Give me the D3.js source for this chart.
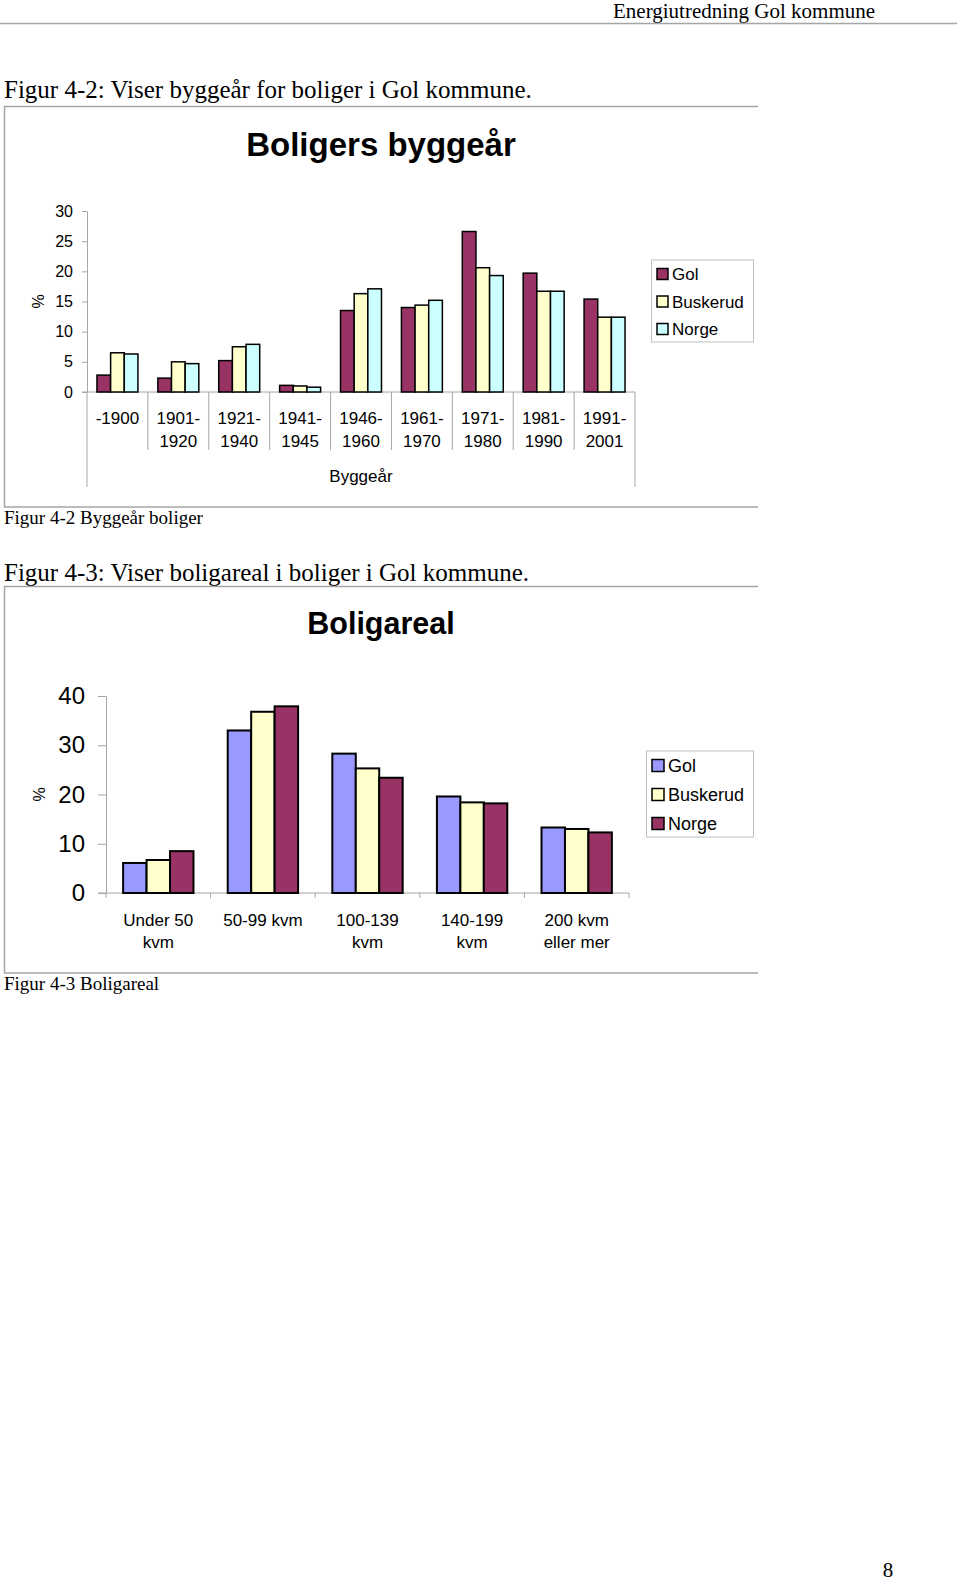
<!DOCTYPE html>
<html><head><meta charset="utf-8">
<script src="https://cdn.jsdelivr.net/npm/d3@7"></script>
<style>body{margin:0;background:#fff} svg{display:block}</style>
</head><body>
<script>
// ---------- data ----------
const seriesNames = ["Gol", "Buskerud", "Norge"];

const yearCategories = [["-1900"], ["1901-", "1920"], ["1921-", "1940"], ["1941-", "1945"], ["1946-", "1960"],
  ["1961-", "1970"], ["1971-", "1980"], ["1981-", "1990"], ["1991-", "2001"]];
const golYears      = [2.8, 2.3, 5.2, 1.1, 13.5, 14.0, 26.6, 19.7, 15.4];
const buskerudYears = [6.5, 5.0, 7.5, 1.0, 16.3, 14.4, 20.6, 16.7, 12.4];
const norgeYears    = [6.3, 4.7, 7.9, 0.8, 17.1, 15.2, 19.3, 16.7, 12.4];
const yearTicks = [0, 5, 10, 15, 20, 25, 30];

const areaCategories = [["Under 50", "kvm"], ["50-99 kvm"], ["100-139", "kvm"], ["140-199", "kvm"], ["200 kvm", "eller mer"]];
const golArea      = [6.1, 33.0, 28.3, 19.6, 13.3];
const buskerudArea = [6.7, 36.8, 25.3, 18.4, 13.0];
const norgeArea    = [8.5, 37.9, 23.4, 18.2, 12.3];
const areaTicks = [0, 10, 20, 30, 40];

// ---------- styles ----------
const yearColors = ["#993366", "#FFFFCC", "#CCFFFF"];
const areaColors = ["#9999FF", "#FFFFCC", "#993366"];
const SERIF = "'Liberation Serif','Times New Roman',serif";
const SANS = "'Liberation Sans',Arial,sans-serif";
const GRAY = "#a6a6a6";

const svg = d3.select("body").append("svg").attr("width", 960).attr("height", 1583);

// page text
svg.append("text").attr("x", 613).attr("y", 18).attr("font-family", SERIF).attr("font-size", 21).text("Energiutredning Gol kommune");
svg.append("line").attr("x1", 0).attr("x2", 957).attr("y1", 23.5).attr("y2", 23.5).attr("stroke", GRAY).attr("stroke-width", 1.5);
svg.append("text").attr("x", 4).attr("y", 98).attr("font-family", SERIF).attr("font-size", 25).text("Figur 4-2: Viser byggeår for boliger i Gol kommune.");
svg.append("text").attr("x", 4).attr("y", 524).attr("font-family", SERIF).attr("font-size", 19).text("Figur 4-2 Byggeår boliger");
svg.append("text").attr("x", 4).attr("y", 581).attr("font-family", SERIF).attr("font-size", 25).text("Figur 4-3: Viser boligareal i boliger i Gol kommune.");
svg.append("text").attr("x", 4).attr("y", 990).attr("font-family", SERIF).attr("font-size", 19).text("Figur 4-3 Boligareal");
svg.append("text").attr("x", 888).attr("y", 1577).attr("text-anchor", "middle").attr("font-family", SERIF).attr("font-size", 21).text("8");

function frame(top, bottom) {
  const g = svg.append("g").attr("stroke", GRAY).attr("stroke-width", 1.5).attr("fill", "none");
  g.append("path").attr("d", `M758,${top}H4.5V${bottom}H758`);
}
frame(106.5, 507);
frame(586.5, 973);

function drawChart(cfg) {
  const g = svg.append("g");
  const x = d3.scaleBand().domain(d3.range(cfg.categories.length)).range([cfg.x0, cfg.x1]);
  const xs = d3.scaleBand().domain(seriesNames).range([0, x.bandwidth()]).paddingInner(0).paddingOuter(0.73);
  const y = d3.scaleLinear().domain([0, d3.max(cfg.ticks)]).range([cfg.y0, cfg.yTop]);
  const values = [cfg.gol, cfg.busk, cfg.norge];

  // title
  g.append("text").attr("x", 381).attr("y", cfg.titleY).attr("text-anchor", "middle")
    .attr("font-family", SANS).attr("font-weight", "bold").attr("font-size", cfg.titleSize).text(cfg.title);

  // y axis
  const ya = g.append("g").attr("transform", `translate(${cfg.x0},0)`)
    .call(d3.axisLeft(y).tickValues(cfg.ticks).tickSize(cfg.tickSize).tickSizeOuter(0).tickPadding(cfg.tickPad));
  ya.select(".domain").attr("stroke", GRAY).attr("stroke-width", 1);
  ya.selectAll(".tick line").attr("stroke", GRAY);
  ya.selectAll(".tick text").attr("font-family", SANS).attr("font-size", cfg.tickFont).attr("fill", "#000");

  g.append("text").attr("transform", `translate(${cfg.pctX},${(cfg.y0 + cfg.yTop) / 2}) rotate(-90)`)
    .attr("text-anchor", "middle").attr("dy", "0.35em").attr("font-family", SANS).attr("font-size", 16).text("%");

  // x axis line
  g.append("line").attr("x1", cfg.x0 - cfg.tickSize).attr("x2", cfg.x1).attr("y1", y(0)).attr("y2", y(0)).attr("stroke", GRAY);
  const bounds = x.domain().map(d => x(d)).concat([cfg.x1]);
  g.selectAll(".sep").data(bounds).join("line")
    .attr("x1", d => d).attr("x2", d => d).attr("y1", y(0))
    .attr("y2", (d, i) => (i === 0 || i === bounds.length - 1) ? y(0) + cfg.outerSep : y(0) + cfg.innerSep)
    .attr("stroke", GRAY);

  // bars
  seriesNames.forEach((s, si) => {
    g.append("g").selectAll("rect").data(values[si]).join("rect")
      .attr("x", (d, i) => x(i) + xs(s)).attr("width", xs.bandwidth())
      .attr("y", d => y(d)).attr("height", d => y(0) - y(d))
      .attr("fill", cfg.colors[si]).attr("stroke", "#000").attr("stroke-width", cfg.barStroke);
  });

  // category labels
  const lab = g.selectAll(".cat").data(cfg.categories).join("text")
    .attr("text-anchor", "middle").attr("font-family", SANS).attr("font-size", cfg.catFont);
  lab.each(function (lines, i) {
    d3.select(this).selectAll("tspan").data(lines).join("tspan")
      .attr("x", x(i) + x.bandwidth() / 2).attr("y", (l, j) => cfg.catY + j * cfg.catLine).text(l => l);
  });

  if (cfg.axisTitle) {
    g.append("text").attr("x", (cfg.x0 + cfg.x1) / 2).attr("y", cfg.axisTitleY).attr("text-anchor", "middle")
      .attr("font-family", SANS).attr("font-size", 17).text(cfg.axisTitle);
  }

  // legend
  const L = cfg.legend;
  g.append("rect").attr("x", L.x).attr("y", L.y).attr("width", L.w).attr("height", L.h)
    .attr("fill", "#fff").attr("stroke", "#c0c0c0").attr("stroke-width", 1);
  seriesNames.forEach((s, si) => {
    const cy = L.firstY + si * L.step;
    g.append("rect").attr("x", L.sx).attr("y", cy - L.sw / 2).attr("width", L.sw).attr("height", L.sw)
      .attr("fill", cfg.colors[si]).attr("stroke", "#000").attr("stroke-width", 1.5);
    g.append("text").attr("x", L.tx).attr("y", cy).attr("dy", "0.36em").attr("font-family", SANS)
      .attr("font-size", L.font).text(s);
  });
}

drawChart({
  title: "Boligers byggeår", titleY: 156, titleSize: 33,
  categories: yearCategories, gol: golYears, busk: buskerudYears, norge: norgeYears, ticks: yearTicks,
  colors: yearColors, x0: 87, x1: 635, y0: 392, yTop: 211,
  tickSize: 5, tickPad: 9, tickFont: 16, pctX: 38,
  innerSep: 58, outerSep: 95, barStroke: 1.5,
  catFont: 17, catY: 424, catLine: 22.5,
  axisTitle: "Byggeår", axisTitleY: 482,
  legend: { x: 651.5, y: 260, w: 102, h: 82, sx: 657, sw: 11, tx: 672, firstY: 274, step: 27.5, font: 17 }
});

drawChart({
  title: "Boligareal", titleY: 634, titleSize: 30.5,
  categories: areaCategories, gol: golArea, busk: buskerudArea, norge: norgeArea, ticks: areaTicks,
  colors: areaColors, x0: 106, x1: 629, y0: 893, yTop: 696,
  tickSize: 8, tickPad: 13, tickFont: 24, pctX: 39,
  innerSep: 5, outerSep: 5, barStroke: 2,
  catFont: 17, catY: 926, catLine: 22,
  axisTitle: null,
  legend: { x: 646.5, y: 751, w: 107, h: 86, sx: 652, sw: 12, tx: 668, firstY: 765.5, step: 29, font: 18 }
});
</script>
</body></html>
